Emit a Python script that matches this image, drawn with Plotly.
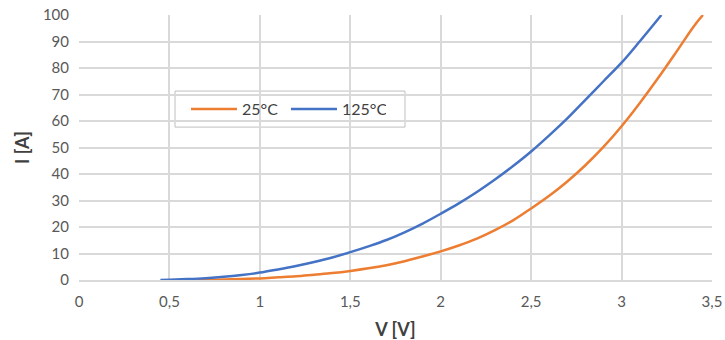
import plotly.graph_objects as go

v_25 = [0.65, 0.7, 0.8, 0.9, 1.0, 1.1, 1.2, 1.3, 1.4, 1.5, 1.6, 1.7, 1.8, 1.9, 2.0,
        2.1, 2.2, 2.3, 2.4, 2.5, 2.6, 2.7, 2.8, 2.9, 3.0, 3.1, 3.2, 3.3, 3.4, 3.45]
i_25 = [0, 0.05, 0.2, 0.4, 0.6, 1.0, 1.4, 2.0, 2.6, 3.4, 4.4, 5.6, 7.1, 8.9, 10.8,
        13.0, 15.6, 18.8, 22.5, 27.0, 31.8, 37.2, 43.3, 50.2, 58.0, 66.7, 76.0, 85.8, 95.8, 100]

v_125 = [0.45, 0.5, 0.6, 0.7, 0.8, 0.9, 1.0, 1.1, 1.2, 1.3, 1.4, 1.5, 1.6, 1.7, 1.8, 1.9, 2.0,
         2.1, 2.2, 2.3, 2.4, 2.5, 2.6, 2.7, 2.8, 2.9, 3.0, 3.1, 3.2, 3.22]
i_125 = [0, 0.1, 0.35, 0.7, 1.2, 1.9, 2.8, 4.0, 5.3, 6.8, 8.5, 10.5, 12.7, 15.1, 18.0, 21.3, 25.0,
         28.9, 33.2, 37.9, 43.0, 48.5, 54.6, 61.0, 68.0, 75.0, 82.0, 90.0, 98.3, 100]

x_ticks = [0, 0.5, 1, 1.5, 2, 2.5, 3, 3.5]
y_ticks = [0, 10, 20, 30, 40, 50, 60, 70, 80, 90, 100]

FONT = "Lato"
GRID = "#D9D9D9"
TICK = "#595959"

fig = go.Figure()
fig.add_trace(go.Scatter(x=v_25, y=i_25, mode="lines", name="25°C",
                         line=dict(color="#ED7D31", width=2.5, shape="spline", smoothing=1)))
fig.add_trace(go.Scatter(x=v_125, y=i_125, mode="lines", name="125°C",
                         line=dict(color="#4472C4", width=2.5, shape="spline", smoothing=1)))

# legend frame
fig.add_shape(type="rect", xref="paper", yref="paper",
              x0=0.1517, x1=0.515, y0=0.577, y1=0.713,
              line=dict(color="#BFBFBF", width=1), fillcolor="white", layer="between")

fig.update_layout(
    width=725, height=340,
    margin=dict(l=79, r=13, t=15, b=60),
    paper_bgcolor="white", plot_bgcolor="white",
    separators=",.",
    font=dict(family=FONT, size=15, color=TICK),
    showlegend=True,
    legend=dict(x=0.169, y=0.645, xanchor="left", yanchor="middle",
                orientation="h", bgcolor="rgba(0,0,0,0)", borderwidth=0,
                font=dict(family=FONT, size=16, color="#404040"),
                itemwidth=46, entrywidth=39, entrywidthmode="pixels", tracegroupgap=0),
    xaxis=dict(range=[0, 3.5], tickvals=x_ticks, showgrid=True, gridcolor=GRID, gridwidth=1.5,
               zeroline=False, showline=True, linecolor=GRID, linewidth=1.5, ticks="",
               automargin=False, ticklabelstandoff=7, ticklabeloverflow="allow",
               tickfont=dict(family=FONT, size=15, color=TICK),
               title=dict(text="<b>V [V]</b>", font=dict(family=FONT, size=18, color="#404040"), standoff=16)),
    yaxis=dict(range=[0, 100], tickvals=y_ticks, showgrid=True, gridcolor=GRID, gridwidth=1.5,
               zeroline=False, showline=False, ticks="", automargin=False, ticklabelstandoff=9,
               ticklabeloverflow="allow",
               tickfont=dict(family=FONT, size=15, color=TICK),
               title=dict(text="<b>I [A]</b>", font=dict(family=FONT, size=18, color="#404040"), standoff=8)),
)

fig.write_html("out.html", config={"displayModeBar": False},
               post_script="document.body.style.margin='0';")
